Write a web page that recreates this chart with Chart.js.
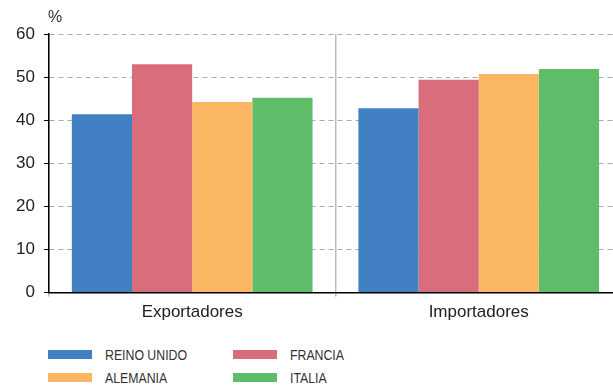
<!DOCTYPE html>
<html>
<head>
<meta charset="utf-8">
<script src="https://cdn.jsdelivr.net/npm/chart.js@4"></script>
<style>
  body { margin: 0; background: #fff; font-family: Arial, "Liberation Sans", sans-serif; }
  #wrap { position: relative; width: 613px; height: 385px; overflow: hidden; }
  #unit { position: absolute; left: 48px; top: 8px; font-size: 16px; color: #333; }
  .leg { position: absolute; font-family: Arial, "Liberation Sans", sans-serif;
         font-size: 15px; color: #333; white-space: nowrap; }
  .leg .box { display: inline-block; width: 44px; height: 9px; margin-right: 13px; vertical-align: 1px; }
  .leg .txt { display: inline-block; transform: scaleX(0.82); transform-origin: left center; }
</style>
</head>
<body>
<div id="wrap">
  <canvas id="chart" width="622" height="329"></canvas>
  <div id="unit">%</div>
  <div id="legend"></div>
</div>
<script>
// categories and series
const categories = ["Exportadores", "Importadores"];
const seriesNames = ["REINO UNIDO", "FRANCIA", "ALEMANIA", "ITALIA"];
const reinoUnido = [41.4, 42.8];
const francia = [53.0, 49.4];
const alemania = [44.2, 50.7];
const italia = [45.2, 51.9];
const yTicks = [0, 10, 20, 30, 40, 50, 60];

const colors = ["#4180c3", "#d96d7c", "#fbb764", "#5fbd6a"];
const values = [reinoUnido, francia, alemania, italia];

const ctx = document.getElementById("chart").getContext("2d");
new Chart(ctx, {
  type: "bar",
  data: {
    labels: categories,
    datasets: seriesNames.map((name, i) => ({
      label: name,
      data: values[i],
      backgroundColor: colors[i],
      borderWidth: 0,
      categoryPercentage: 0.84,
      barPercentage: 1.0,
    })),
  },
  options: {
    responsive: false,
    animation: false,
    layout: { padding: { top: 34, right: 0, left: 7, bottom: 0 } },
    plugins: { legend: { display: false }, tooltip: { enabled: false } },
    scales: {
      x: {
        offset: true,
        grid: { display: true, offset: true, color: "#bbb", lineWidth: 1.5, drawTicks: true, tickLength: 4 },
        border: { display: true, color: "#000", width: 1.5 },
        ticks: { color: "#222", font: { family: "Arial, Liberation Sans", size: 17 }, padding: 6 },
      },
      y: {
        min: 0,
        max: 60,
        afterBuildTicks: (axis) => { axis.ticks = yTicks.map((v) => ({ value: v })); },
        grid: { color: "#aaa", lineWidth: 1, tickColor: "#000", tickLength: 5, tickBorderDash: [] },
        border: { display: true, color: "#000", width: 1.5, dash: [5, 4] },
        ticks: { color: "#222", font: { family: "Arial, Liberation Sans", size: 17 }, padding: 9 },
      },
    },
  },
});

// legend in two columns under the chart
const legend = document.getElementById("legend");
const legPos = [[48, 346], [233, 346], [48, 369], [233, 369]];
seriesNames.forEach((name, i) => {
  const d = document.createElement("div");
  d.className = "leg";
  d.style.left = legPos[i][0] + "px";
  d.style.top = legPos[i][1] + "px";
  d.innerHTML = '<span class="box" style="background:' + colors[i] + '"></span><span class="txt">' + name + "</span>";
  legend.appendChild(d);
});
</script>
</body>
</html>
